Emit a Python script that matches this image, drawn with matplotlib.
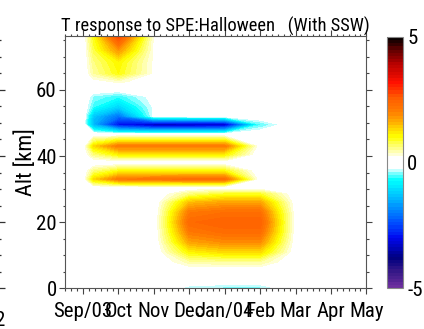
import numpy as np
import matplotlib
matplotlib.use('Agg')
import matplotlib.pyplot as plt
from matplotlib.colors import LinearSegmentedColormap, Normalize
from matplotlib.ticker import MultipleLocator

# time in months after 1 Sep 2003, altitude in km
t_month = [-0.6, 0.0, 0.3, 1.0, 2.0, 3.0, 4.0, 5.0, 6.0, 8.0]
alt_km = [0, 2.5, 5, 8, 11, 14, 17, 20, 23, 26, 28.5, 30.5, 33, 35.5, 38,
          40.5, 43, 46.5, 49.5, 52, 55, 58, 60.5, 62.5, 65, 68.5, 72, 76.5]

# temperature response [K], one row per altitude
dT = [
    [0, 0, 0, 0, 0, -0.35, -0.45, -0.45, 0, 0],
    [0, 0, 0, 0, 0, 0, 0, 0, 0, 0],
    [0, 0, 0, 0, 0, 0, 0, 0, 0, 0],
    [0, 0, 0, 0, 0, 0.45, 0.5, 0.5, 0, 0],
    [0, 0, 0, 0, 0, 1.1, 1.3, 1.3, 0.05, 0],
    [0, 0, 0, 0, 0, 1.7, 1.9, 1.9, 0.08, 0],
    [0, 0, 0, 0, 0, 2.1, 2.3, 2.3, 0.1, 0],
    [0, 0, 0, 0, 0, 2.35, 2.5, 2.5, 0.1, 0],
    [0, 0, 0, 0, 0, 2.1, 2.25, 2.25, 0.1, 0],
    [0, 0, 0, 0, 0, 1.5, 1.7, 1.7, 0.08, 0],
    [0, 0, 0, 0, 0, 0.6, 0.9, 0.9, 0.05, 0],
    [0, 0, 0, 0, 0, 0, 0, 0, 0, 0],
    [0, 0, 1.3, 2.1, 2.2, 2.3, 2.3, 0.05, 0, 0],
    [0, 0, 0.6, 1.0, 1.0, 1.0, 1.0, 0, 0, 0],
    [0, 0, 0, 0, 0, 0, 0, 0, 0, 0],
    [0, 0, 0.6, 1.1, 1.1, 1.1, 1.1, 0, 0, 0],
    [0, 0, 1.3, 2.1, 2.1, 2.1, 2.1, 0.05, 0, 0],
    [0, 0, 0, 0, 0, 0, 0, 0, 0, 0],
    [0, 0, -1.5, -3.0, -3.5, -3.5, -3.4, -0.55, 0, 0],
    [0, 0, -1.3, -2.1, -0.2, -0.1, -0.1, 0, 0, 0],
    [0, 0, -0.6, -1.1, -0.2, 0, 0, 0, 0, 0],
    [0, 0, -0.4, -0.6, -0.15, 0, 0, 0, 0, 0],
    [0, 0, 0, 0, 0, 0, 0, 0, 0, 0],
    [0, 0, 0.15, 0.3, 0.1, 0, 0, 0, 0, 0],
    [0, 0, 0.5, 1.0, 0.2, 0, 0, 0, 0, 0],
    [0, 0, 0.6, 1.1, 0.2, 0, 0, 0, 0, 0],
    [0, 0, 0.8, 1.8, 0.2, 0, 0, 0, 0, 0],
    [0, 0, 1.0, 2.9, 0.2, 0, 0, 0, 0, 0],
]

month_ticks = [0, 1, 2, 3, 4, 5, 6, 7, 8]
month_labels = ['Sep/03', 'Oct', 'Nov', 'Dec', 'Jan/04', 'Feb', 'Mar', 'Apr', 'May']

plt.rcParams['font.family'] = ['Roboto Condensed', 'Archivo Narrow', 'Liberation Sans', 'DejaVu Sans']

# idl-like blue-white-red colour table
cm_pos = [-5, -4.4, -3.8, -3.0, -2.4, -1.8, -1.2, -0.7, -0.3, -0.2, 0.2, 0.5, 1.05, 1.5, 2.0, 2.6, 3.2, 4.0, 4.5, 5]
cm_col = ['#7030a0', '#3a1a88', '#000080', '#0008f0', '#0050ff', '#0090ff', '#00d0ff', '#00ffff',
          '#c0ffff', '#ffffff', '#ffffff', '#ffffa0', '#ffff00', '#ffc000', '#ff8000', '#ff5c00',
          '#ff1000', '#b00000', '#600000', '#000000']
cmap = LinearSegmentedColormap.from_list('tcol', [((p + 5) / 10, c) for p, c in zip(cm_pos, cm_col)], N=256)

fig = plt.figure(figsize=(4.24, 3.29), dpi=100)
W, H = 424, 329
ax = fig.add_axes([65 / W, 1 - 288.3 / H, 301.4 / W, 252.3 / H])

levels = np.arange(-5, 5.001, 0.125)
cs = ax.contourf(t_month, alt_km, dT, levels=levels, cmap=cmap, norm=Normalize(-5, 5))

ax.set_xlim(-0.51, 8.0)
ax.set_ylim(0, 76.3)
ax.set_xticks(month_ticks)
ax.set_xticklabels(month_labels)
ax.xaxis.set_minor_locator(MultipleLocator(1 / 6))
ax.set_yticks([0, 20, 40, 60])
ax.yaxis.set_minor_locator(MultipleLocator(5))
ax.tick_params(which='both', direction='out', top=True, right=True, labelsize=15, color='#444444')
ax.tick_params(which='major', length=4, width=0.8)
ax.tick_params(which='minor', length=1.8, width=0.8)
ax.tick_params(axis='x', pad=6)
ax.tick_params(axis='y', pad=2)
for s in ax.spines.values():
    s.set_color('#555555')
    s.set_linewidth(0.8)
ax.set_title('T response to SPE:Halloween   (With SSW)', fontsize=13.3, pad=3)
ax.set_ylabel('Alt [km]', fontsize=16, family=['Roboto Condensed', 'Liberation Sans'], labelpad=-1)

cax = fig.add_axes([387 / W, 1 - 288.3 / H, 16 / W, 251.3 / H])
cb = fig.colorbar(cs, cax=cax, ticks=[-5, 0, 5])
cb.set_ticklabels(['-5', '0', '5'])
cb.ax.tick_params(length=0, labelsize=15, pad=3)
cb.outline.set_edgecolor('#888888')
cb.outline.set_linewidth(0.8)

# edge of the neighbouring panel on the left
axl = fig.add_axes([-0.2, 1 - 288.3 / H, 0.2 - 1 / W, 252.3 / H])
axl.set_ylim(0, 76.3)
axl.yaxis.tick_right()
axl.set_yticks([0, 20, 40, 60])
axl.yaxis.set_minor_locator(MultipleLocator(5))
axl.tick_params(which='both', direction='out', labelright=False, color='#333333')
axl.tick_params(which='major', length=4.5, width=0.9)
axl.tick_params(which='minor', length=1.5, width=0.9)
axl.set_xticks([])
for s in axl.spines.values():
    s.set_visible(False)
axl.patch.set_visible(False)
fig.text(-5 / W, 1 - 320 / H, '2', fontsize=15, ha='left', va='center')

fig.savefig('out.png', dpi=100)
